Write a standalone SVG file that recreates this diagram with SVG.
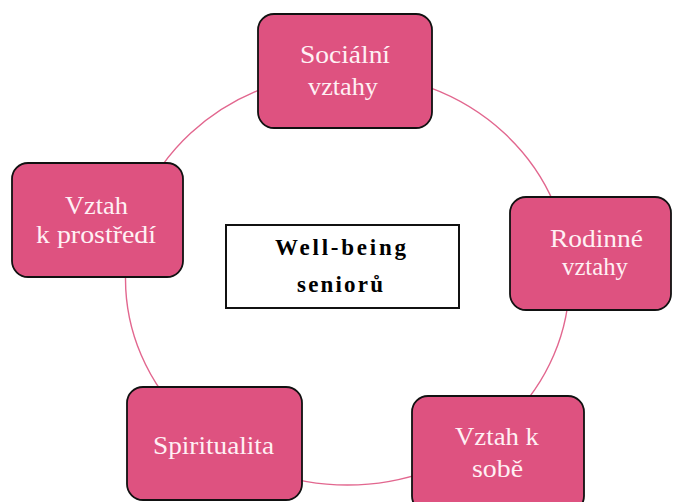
<svg xmlns="http://www.w3.org/2000/svg" width="673" height="502" viewBox="0 0 673 502">
<style>
.node rect{fill:#de5280;stroke:#111;stroke-width:1.8}
.node text{font-family:"Liberation Serif","Times New Roman",serif;font-size:25px;fill:#fff0f4;text-anchor:middle}
.center rect{fill:#fff;stroke:#111;stroke-width:2}
.center text{font-family:"Liberation Serif","Times New Roman",serif;font-size:23px;font-weight:bold;fill:#000;text-anchor:middle}
.conn{fill:none;stroke:#e2678f;stroke-width:1.4}
</style>
<rect width="673" height="502" fill="#fff"/>
<g id="connectors">
<ellipse class="conn" cx="347.5" cy="279" rx="222" ry="206"/>
</g>
<g id="center" class="center">
<rect x="226" y="225" width="233" height="83"/>
<text x="340.5" y="255" textLength="131" lengthAdjust="spacing">Well-being</text>
<text x="340" y="292" textLength="86" lengthAdjust="spacing">seniorů</text>
</g>
<g id="socialni" class="node">
<rect x="258" y="14" width="174" height="114" rx="16"/>
<text x="345" y="63" textLength="90" lengthAdjust="spacingAndGlyphs">Sociální</text>
<text x="343" y="95" textLength="70" lengthAdjust="spacingAndGlyphs">vztahy</text>
</g>
<g id="prostredi" class="node">
<rect x="12" y="163" width="171" height="114" rx="16"/>
<text x="96.5" y="214" textLength="63" lengthAdjust="spacingAndGlyphs">Vztah</text>
<text x="96" y="243" textLength="120" lengthAdjust="spacingAndGlyphs">k prostředí</text>
</g>
<g id="rodinne" class="node">
<rect x="510" y="197" width="161" height="113" rx="16"/>
<text x="596.5" y="247" textLength="93" lengthAdjust="spacingAndGlyphs">Rodinné</text>
<text x="595" y="275" textLength="66" lengthAdjust="spacingAndGlyphs">vztahy</text>
</g>
<g id="spiritualita" class="node">
<rect x="127" y="387" width="175" height="113" rx="16"/>
<text x="213.5" y="454" textLength="121" lengthAdjust="spacingAndGlyphs">Spiritualita</text>
</g>
<g id="sobe" class="node">
<rect x="412" y="396" width="172" height="116" rx="16"/>
<text x="497" y="445" textLength="84" lengthAdjust="spacingAndGlyphs">Vztah k</text>
<text x="497.5" y="477" textLength="51" lengthAdjust="spacingAndGlyphs">sobě</text>
</g>
</svg>
